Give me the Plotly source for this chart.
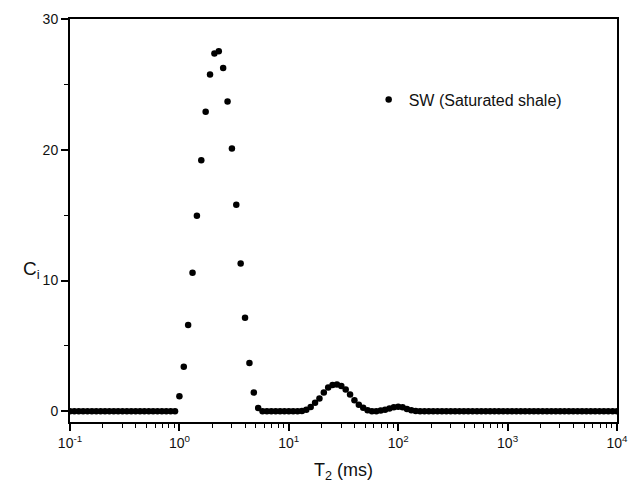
import numpy as np
import plotly.graph_objects as go

# T2 grid: 25 points per decade from 0.1 ms to 10^4 ms (126 points)
k_index = list(range(126))
t2_ms = [10 ** (-1 + k / 25) for k in k_index]

# Ci values (non-zero entries by grid index)
nonzero = {
    25: 1.15, 26: 3.4, 27: 6.6, 28: 10.6, 29: 14.95, 30: 19.2, 31: 22.9,
    32: 25.75, 33: 27.36, 34: 27.54, 35: 26.26, 36: 23.7, 37: 20.1,
    38: 15.8, 39: 11.3, 40: 7.15, 41: 3.7, 42: 1.43, 43: 0.25,
    53: 0.03, 54: 0.12, 55: 0.32, 56: 0.66, 57: 0.97, 58: 1.43, 59: 1.81,
    60: 2.01, 61: 2.04, 62: 1.94, 63: 1.66, 64: 1.28, 65: 0.84, 66: 0.5,
    67: 0.27, 68: 0.08,
    71: 0.05, 72: 0.12, 73: 0.22, 74: 0.3, 75: 0.34, 76: 0.3, 77: 0.18,
    78: 0.08, 79: 0.02,
}
ci_values = [nonzero.get(k, 0.0) for k in k_index]

x_tickvals = [0.1, 1, 10, 100, 1000, 10000]
x_ticktext = ["10<sup>-1</sup>", "10<sup>0</sup>", "10<sup>1</sup>",
              "10<sup>2</sup>", "10<sup>3</sup>", "10<sup>4</sup>"]
y_tickvals = [0, 10, 20, 30]
series_name = "SW (Saturated shale)"

fig = go.Figure()
fig.add_trace(go.Scatter(
    x=t2_ms, y=ci_values, mode="markers", name=series_name,
    marker=dict(color="black", size=6.5),
))

font_family = "Liberation Sans, Arial, sans-serif"
fig.update_layout(
    width=629, height=492,
    margin=dict(l=70, r=12, t=19, b=70, autoexpand=False),
    paper_bgcolor="white", plot_bgcolor="white",
    font=dict(family=font_family, size=14, color="#111"),
    showlegend=True,
    legend=dict(x=0.546, y=0.80, xanchor="left", yanchor="middle",
                bgcolor="rgba(0,0,0,0)", font=dict(size=16),
                itemsizing="trace"),
    annotations=[dict(
        text="C<sub>i</sub>", xref="paper", yref="paper",
        x=-0.07, y=0.377, xanchor="center", yanchor="middle",
        showarrow=False, font=dict(size=19),
    )],
)
fig.update_xaxes(
    type="log", range=[-1, 4], automargin=False,
    tickvals=x_tickvals, ticktext=x_ticktext,
    ticks="outside", ticklen=7, tickwidth=1.5, tickcolor="black",
    minor=dict(ticks="outside", ticklen=4, tickwidth=1.2, tickcolor="black",
               dtick="D1", showgrid=False),
    showline=True, linecolor="black", linewidth=2, mirror=True,
    showgrid=False, zeroline=False,
    title=dict(text="T<sub>2</sub> (ms)", font=dict(size=18), standoff=14),
)
fig.update_yaxes(
    range=[-0.82, 30], automargin=False,
    tickvals=y_tickvals,
    ticks="outside", ticklen=7, tickwidth=1.5, tickcolor="black",
    minor=dict(ticks="outside", ticklen=4, tickwidth=1.2, tickcolor="black",
               tickvals=[5, 15, 25], showgrid=False),
    showline=True, linecolor="black", linewidth=2, mirror=True,
    showgrid=False, zeroline=False,
)

fig.write_html("out.html")
